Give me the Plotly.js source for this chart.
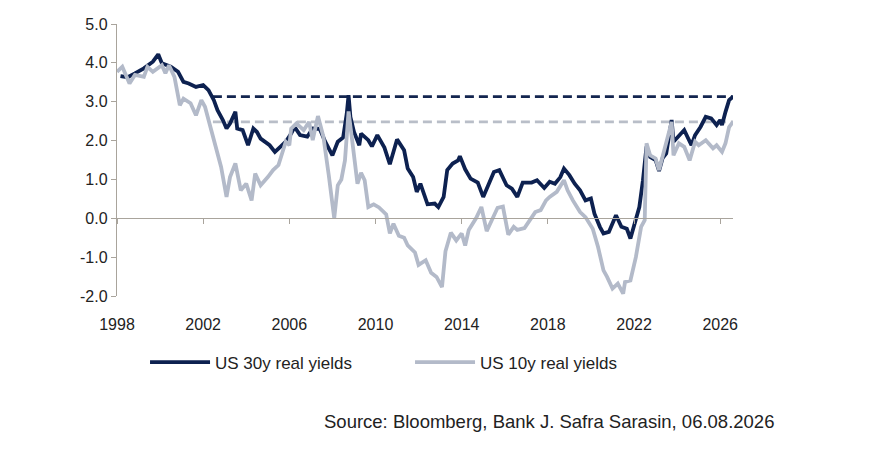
<!DOCTYPE html>
<html>
<head>
<meta charset="utf-8">
<script src="https://cdn.plot.ly/plotly-3.0.1.min.js"></script>
<style>
  html, body { margin: 0; padding: 0; background: #fff; }
  #chart { width: 890px; height: 451px; }
</style>
</head>
<body>
<div id="chart"></div>
<script>
// US real yields, monthly points
var dates30 = ['1998-03','1998-07','1998-11','1999-04','1999-09','1999-12','2000-02','2000-07','2000-11',
  '2001-02','2001-05','2001-09','2002-01','2002-04','2002-07','2002-09','2002-12','2003-02','2003-04',
  '2003-07','2003-08','2003-11','2004-02','2004-05','2004-07','2004-09','2005-02','2005-05','2005-08',
  '2005-11','2006-02','2006-04','2006-07','2006-11','2007-02','2007-06','2007-09','2008-01','2008-04',
  '2008-07','2008-09','2008-10','2008-11','2009-01','2009-04','2009-05','2009-09','2009-11','2010-02',
  '2010-06','2010-09','2011-01','2011-05','2011-07','2011-10','2011-12','2012-02','2012-06','2012-10',
  '2012-12','2013-03','2013-05','2013-08','2013-11','2013-12','2014-03','2014-06','2014-10','2015-01',
  '2015-04','2015-07','2015-10','2016-02','2016-05','2016-08','2016-11','2017-04','2017-07','2017-11',
  '2018-02','2018-05','2018-08','2018-10','2019-01','2019-04','2019-07','2019-10','2020-01','2020-03',
  '2020-06','2020-08','2020-11','2021-03','2021-06','2021-09','2021-11','2022-01','2022-04','2022-06',
  '2022-08','2022-10','2023-01','2023-03','2023-05','2023-07','2023-10','2023-11','2024-02','2024-05',
  '2024-09','2024-11','2025-02','2025-05','2025-08','2025-11','2026-01','2026-02','2026-04','2026-06',
  '2026-08-06'];
var us30y = [3.66,3.63,3.73,3.86,4.03,4.22,3.99,3.90,3.77,
  3.51,3.47,3.38,3.43,3.30,3.04,2.78,2.53,2.31,2.44,
  2.74,2.31,2.27,1.88,2.31,2.22,2.05,1.88,1.71,1.84,
  1.97,2.18,2.35,2.14,2.10,2.31,2.30,1.97,1.62,1.97,
  2.08,2.70,3.17,2.61,2.22,1.88,2.18,2.01,1.85,2.14,
  1.82,1.39,2.03,1.75,1.28,1.06,0.68,0.89,0.36,0.38,
  0.29,0.55,1.24,1.41,1.49,1.60,1.26,1.02,0.92,0.55,
  0.88,1.19,1.24,0.85,0.76,0.55,0.92,0.92,0.98,0.78,
  0.94,0.89,1.06,1.28,1.11,0.89,0.72,0.46,0.51,0.12,
  -0.22,-0.39,-0.35,0.08,-0.22,-0.27,-0.52,-0.22,0.29,0.98,
  1.85,1.58,1.50,1.22,1.55,1.67,2.53,1.97,2.14,2.27,
  1.88,2.14,2.35,2.61,2.57,2.40,2.53,2.40,2.74,3.04,
  3.13];

var dates10 = ['1998-01','1998-04','1998-08','1998-11','1999-04','1999-06','1999-09','2000-02','2000-04',
  '2000-06','2000-09','2000-12','2001-02','2001-06','2001-09','2001-12','2002-02','2002-05','2002-08',
  '2002-11','2003-02','2003-04','2003-07','2003-10','2004-01','2004-04','2004-06','2004-09','2005-01',
  '2005-04','2005-07','2005-09','2005-11','2006-01','2006-02','2006-05','2006-09','2006-12','2007-02',
  '2007-05','2007-08','2007-11','2008-02','2008-04','2008-06','2008-08','2008-10','2008-12','2009-02',
  '2009-03','2009-05','2009-07','2009-09','2009-12','2010-03','2010-07','2010-09','2010-11','2011-02',
  '2011-05','2011-07','2011-11','2012-01','2012-05','2012-08','2012-11','2013-02','2013-04','2013-07',
  '2013-10','2014-01','2014-03','2014-05','2014-09','2014-12','2015-03','2015-06','2015-09','2015-12',
  '2016-03','2016-06','2016-08','2016-12','2017-03','2017-06','2017-09','2017-12','2018-02','2018-06',
  '2018-10','2018-12','2019-03','2019-07','2019-10','2020-02','2020-05','2020-08','2020-10','2021-01',
  '2021-04','2021-07','2021-08','2021-11','2022-02','2022-05','2022-07','2022-08','2022-10','2023-01',
  '2023-03','2023-05','2023-08','2023-10','2023-11','2024-02','2024-05','2024-08','2024-11','2025-01',
  '2025-05','2025-09','2025-11','2026-02','2026-04','2026-06','2026-08-06'];
var us10y = [3.77,3.90,3.47,3.69,3.64,3.90,3.77,3.94,3.73,
  3.94,3.64,2.91,3.08,2.96,2.65,3.04,2.87,2.35,1.84,
  1.32,0.55,1.06,1.41,0.72,0.89,0.46,1.15,0.85,1.06,
  1.24,1.37,1.71,1.97,1.88,2.31,2.44,2.27,2.48,2.01,
  2.63,2.10,1.10,0.00,0.85,1.00,1.49,2.75,2.01,1.32,
  0.89,1.17,0.98,0.29,0.36,0.28,0.10,-0.39,-0.14,-0.45,
  -0.50,-0.70,-0.88,-1.20,-1.08,-1.40,-1.51,-1.77,-0.85,-0.37,
  -0.57,-0.39,-0.70,-0.30,0.00,0.29,-0.33,-0.03,0.27,0.30,
  -0.42,-0.22,-0.30,-0.25,-0.05,0.16,0.21,0.46,0.55,0.68,
  0.98,0.72,0.46,0.16,0.03,-0.27,-0.74,-1.34,-1.51,-1.81,
  -1.68,-1.94,-1.64,-1.60,-1.00,-0.22,-0.05,1.93,1.62,1.54,
  1.24,1.58,2.10,2.48,1.62,1.93,1.84,1.49,1.97,1.88,
  2.01,1.80,1.88,1.71,1.93,2.35,2.48];

// latest levels carried back as dashed reference lines
var refDates = ['2002-06-15', '2026-08-06'];
var ref30 = [3.13, 3.13];
var ref10 = [2.48, 2.48];

var yTicks = [-2, -1, 0, 1, 2, 3, 4, 5];
var yTickText = ['-2.0', '-1.0', '0.0', '1.0', '2.0', '3.0', '4.0', '5.0'];

var navy = '#0d2150';
var grey = '#b3bac9';

var data = [
  { x: refDates, y: ref30, type: 'scatter', mode: 'lines', showlegend: false, hoverinfo: 'skip',
    line: { color: '#13254f', width: 2.6, dash: '9px,5px' } },
  { x: refDates, y: ref10, type: 'scatter', mode: 'lines', showlegend: false, hoverinfo: 'skip',
    line: { color: '#b9bec8', width: 2.6, dash: '9px,5px' } },
  { x: dates30, y: us30y, type: 'scatter', mode: 'lines', name: 'US 30y real yields',
    line: { color: navy, width: 3.8 } },
  { x: dates10, y: us10y, type: 'scatter', mode: 'lines', name: 'US 10y real yields',
    line: { color: grey, width: 3.8 } }
];

var layout = {
  width: 890, height: 451,
  margin: { t: 24, r: 157, l: 117, b: 155 },
  paper_bgcolor: '#fff', plot_bgcolor: '#fff',
  font: { family: 'Liberation Sans, Arial, sans-serif', size: 16, color: '#222' },
  xaxis: {
    type: 'date',
    range: ['1998-01-01', '2026-08-06'],
    anchor: 'free', position: 2 / 7,
    showgrid: false, zeroline: false,
    showline: true, linecolor: '#a9a49c', linewidth: 1.2,
    ticks: 'outside', ticklen: 5, tickcolor: '#a9a49c',
    tick0: '1998-01-01', dtick: 'M48', tickformat: '%Y',
    ticklabelstandoff: 86,
    tickfont: { size: 16, color: '#222' }
  },
  yaxis: {
    range: [-2, 5],
    tickvals: yTicks, ticktext: yTickText,
    showgrid: false, zeroline: false,
    showline: true, linecolor: '#a9a49c', linewidth: 1.2,
    ticks: 'outside', ticklen: 5, tickcolor: '#a9a49c',
    tickfont: { size: 16, color: '#222' }
  },
  legend: {
    orientation: 'h', x: 0.0455, xanchor: 'left', y: -0.245, yanchor: 'middle',
    itemwidth: 60, entrywidth: 190, entrywidthmode: 'pixels',
    font: { size: 17, color: '#222' }, traceorder: 'normal'
  },
  annotations: [{
    xref: 'paper', yref: 'paper', x: 1.07, y: -0.462, xanchor: 'right', yanchor: 'middle',
    showarrow: false, text: 'Source: Bloomberg, Bank J. Safra Sarasin, 06.08.2026',
    font: { size: 18.5, color: '#222' }
  }]
};

Plotly.newPlot('chart', data, layout, { displayModeBar: false, staticPlot: true });
</script>
</body>
</html>
